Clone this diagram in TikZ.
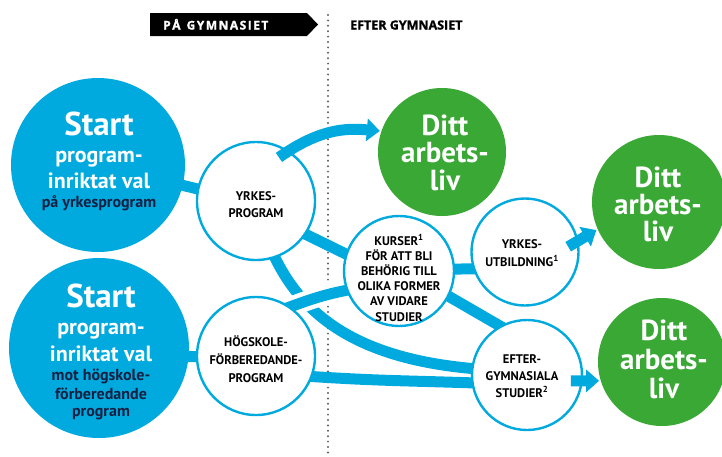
\documentclass[tikz,border=0pt]{standalone}
\usepackage{fontspec}
\setmainfont{PT Sans}
\newfontfamily\headfont[BoldFeatures={FakeBold=1.3}]{Open Sans}
\usetikzlibrary{arrows.meta}
\definecolor{cblue}{RGB}{0,170,222}
\definecolor{cgreen}{RGB}{58,168,53}
\definecolor{cnavy}{RGB}{22,32,66}
\definecolor{cdot}{RGB}{95,95,95}
\pgfdeclarelayer{dots}
\pgfdeclarelayer{bg}
\pgfsetlayers{dots,bg,main}
\newcommand{\lsp}{\kern1.5pt}
\begin{document}
\begin{tikzpicture}[x=1pt,y=1pt,
  band/.style={draw=cblue, line width=11pt},
  ext/.style={shorten <=-12pt, shorten >=-12pt},
  arr/.style={draw=cblue, line width=11pt, shorten <=-12pt, shorten >=1.5pt,
    -{Triangle[length=13pt,width=22pt]}},
  gapband/.style={draw=white, line width=20pt},
  startc/.style={circle, fill=cblue, inner sep=0pt},
  whitec/.style={circle, draw=cblue, line width=2.4pt, fill=white, inner sep=0pt},
  greenc/.style={circle, fill=cgreen, inner sep=0pt},
  bigw/.style={anchor=base, inner sep=0pt, text=white, font=\bfseries\fontsize{33}{33}\selectfont},
  midw/.style={anchor=base, inner sep=0pt, text=white, font=\bfseries\fontsize{22}{22}\selectfont},
  smalln/.style={anchor=base, inner sep=0pt, text=cnavy, font=\bfseries\fontsize{16}{16}\selectfont},
  capt/.style={anchor=base, inner sep=0pt, text=black, font=\bfseries\fontsize{12.5}{12.5}\selectfont},
  ditt/.style={anchor=base, inner sep=0pt, text=white, font=\bfseries\fontsize{29}{29}\selectfont},
  headt/.style={anchor=base west, inner sep=0pt, font=\headfont\bfseries\fontsize{12}{12}\selectfont},
  dotline/.style={draw=cdot, line width=2.2pt, line cap=round, dash pattern=on 0pt off 5.4pt}
]
\useasboundingbox (0,0) rectangle (722,-456);

% header
\fill[black] (150,-13) -- (307,-13) -- (318,-24.5) -- (307,-36) -- (150,-36) -- cycle;
\node[headt, text=white] (pa) at (163,-29.5) {P\lsp Å\lsp\ \lsp G\lsp Y\lsp M\lsp N\lsp A\lsp S\lsp I\lsp E\lsp T};
\node[headt, text=black, font=\headfont\bfseries\fontsize{12.5}{12.5}\selectfont] (ef) at (350,-29.5) {EFTER GYMNASIET};

% circles
\node[startc, minimum size=174pt] (s1) at (98,-165) {};
\node[startc, minimum size=180pt] (s2) at (99,-348) {};
\node[whitec, minimum size=118pt] (yp) at (256,-201) {};
\node[whitec, minimum size=118pt] (hs) at (256,-356) {};
\node[whitec, minimum size=110pt] (k) at (399,-271) {};
\node[whitec, minimum size=107pt] (yu) at (525,-252) {};
\node[whitec, minimum size=110pt] (eg) at (527,-375) {};
\node[greenc, minimum size=128pt] (d1) at (442,-152) {};
\node[greenc, minimum size=134pt] (d2) at (659,-202) {};
\node[greenc, minimum size=128pt] (d3) at (662,-362) {};

% dotted divider
\begin{pgfonlayer}{dots}
\coordinate (dtop) at (328,-15);
\coordinate (dbot) at (328,-456);
\draw[dotline] (dtop) -- (dbot);
\end{pgfonlayer}

% connectors
\begin{pgfonlayer}{bg}
\draw[band] (s1.center) -- ([yshift=-2pt]yp.center);
\draw[band] ([yshift=-8pt]s2.center) -- ([yshift=-1pt]hs.center);
\draw[band] ([yshift=-9pt]yp.center) -- ([yshift=-9pt]k.center);
\draw[band] (yp.center) .. controls (280,-310) and (350,-370) .. ([yshift=4pt]eg.center);
\draw[band,ext] (k.2) -- (yu.198);
\draw[band,ext] (k.-27) -- (eg.119);
\draw[band,ext] (hs.-20) to[out=-4,in=178] (eg.188);
\draw[gapband] (hs.55) to[out=20,in=190] (k.200);
\draw[band,ext] (hs.55) to[out=20,in=190] (k.200);
\end{pgfonlayer}
\draw[arr] (yp.57) to[out=35,in=175] (d1.161);
\draw[arr] (yu.12) -- (d2.204);
\draw[arr] (eg.-6) -- (d3.197);

% texts: start 1
\node[bigw] (s1a) at (99,-135) {Start};
\node[midw] (s1c) at (99,-162) {program-};
\node[midw] (s1d) at (99,-188) {inriktat val};
\node[smalln] (s1e) at (99,-207) {på yrkesprogram};
% start 2
\node[bigw] (s2a) at (101,-307) {Start};
\node[midw] (s2c) at (101,-334) {program-};
\node[midw] (s2d) at (101,-361) {inriktat val};
\node[smalln] (s2e) at (101,-380) {mot högskole-};
\node[smalln] (s2f) at (101,-399) {förberedande};
\node[smalln] (s2g) at (101,-416) {program};
% yrkesprogram
\node[capt] (ypa) at (256,-200) {YRKES-};
\node[capt] (ypc) at (256,-217) {PROGRAM};
% högskole
\node[capt] (hsa) at (256,-346) {HÖGSKOLE-};
\node[capt] (hsc) at (256,-364) {FÖRBEREDANDE-};
\node[capt] (hsd) at (256,-382) {PROGRAM};
% kurser
\node[capt] (ka) at (399,-245) {KURSER\textsuperscript{1}};
\node[capt] (kc) at (399,-260.2) {FÖR ATT BLI};
\node[capt] (kd) at (399,-275.4) {BEHÖRIG TILL};
\node[capt] (ke) at (399,-290.6) {OLIKA FORMER};
\node[capt] (kf) at (399,-305.8) {AV VIDARE};
\node[capt] (kg) at (399,-321) {STUDIER};
% yrkesutbildning
\node[capt] (yua) at (522,-248) {YRKES-};
\node[capt] (yuc) at (522,-266) {UTBILDNING\textsuperscript{1}};
% eftergymnasiala
\node[capt] (ega) at (522,-363) {EFTER-};
\node[capt] (egc) at (522,-380) {GYMNASIALA};
\node[capt] (egd) at (522,-397) {STUDIER\textsuperscript{2}};
% ditt arbetsliv
\node[ditt] (d1a) at (445,-135) {Ditt};
\node[ditt] (d1c) at (445,-162) {arbets-};
\node[ditt] (d1d) at (445,-190) {liv};
\node[ditt] (d2a) at (658,-187) {Ditt};
\node[ditt] (d2c) at (658,-214) {arbets-};
\node[ditt] (d2d) at (658,-241) {liv};
\node[ditt] (d3a) at (664,-340) {Ditt};
\node[ditt] (d3c) at (664,-369) {arbets-};
\node[ditt] (d3d) at (664,-398) {liv};
\end{tikzpicture}
\end{document}
